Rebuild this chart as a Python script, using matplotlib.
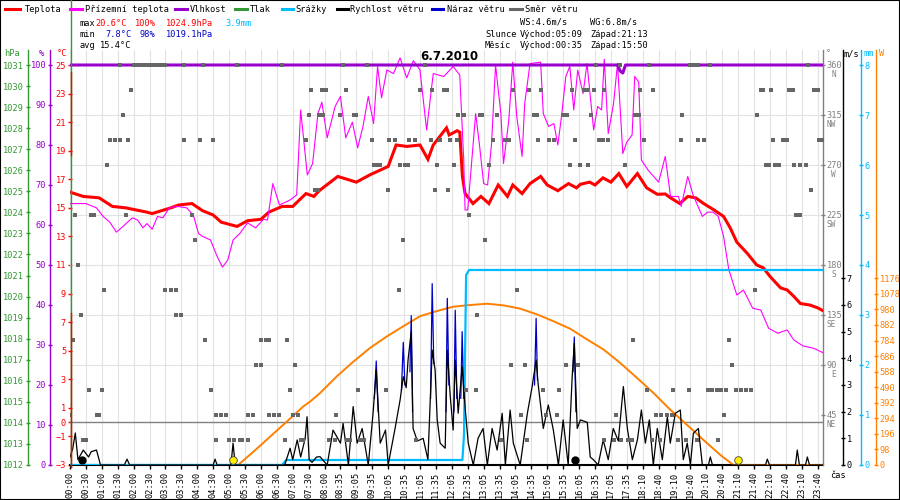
import numpy as np
import matplotlib.pyplot as plt
from matplotlib.lines import Line2D
from matplotlib.patches import Rectangle
from matplotlib.transforms import blended_transform_factory, offset_copy

plt.rcParams['font.family'] = ['DejaVu Sans Mono', 'DejaVu Sans']
FS = 6.2

# ---------------- data (x = sample index, 5 min steps) ----------------
day = '6.7.2010'
time_labels = ['00:00', '00:30', '01:00', '01:30', '02:00', '02:30', '03:00', '03:30',
               '04:00', '04:30', '05:00', '05:30', '06:00', '06:30', '07:00', '07:30',
               '08:00', '08:35', '09:05', '09:35', '10:05', '10:35', '11:05', '11:35',
               '12:05', '12:35', '13:05', '13:35', '14:05', '14:35', '15:05', '15:35',
               '16:05', '16:35', '17:05', '17:35', '18:10', '18:40', '19:10', '19:40',
               '20:10', '20:40', '21:10', '21:40', '22:10', '22:40', '23:10', '23:40']

temp_ticks = [25, 23, 21, 19, 17, 15, 13, 11, 9, 7, 5, 3, 1, 0, -1, -3]
pct_ticks = list(range(0, 101, 10))
hpa_ticks = list(range(1012, 1032))
dir_ticks = [45, 90, 135, 180, 225, 270, 315, 360]
dir_names = ['NE', 'E', 'SE', 'S', 'SW', 'W', 'NW', 'N']
ws_ticks = list(range(0, 8))
mm_ticks = list(range(0, 9))
w_ticks = list(range(0, 1177, 98))

temperature = [(0, 16.1), (5, 15.8), (11, 15.7), (16, 15.1), (21, 15.0), (29, 14.7), (31, 14.6),
               (38, 15.0), (41, 15.2), (46, 15.3), (50, 14.8), (54, 14.5), (57, 14.0), (63, 13.7),
               (67, 14.1), (72, 14.2), (75, 14.7), (80, 15.1), (84, 15.1), (89, 16.0), (92, 15.8),
               (94, 16.2), (101, 17.2), (108, 16.8), (113, 17.3), (120, 17.9), (123, 19.4),
               (127, 19.3), (132, 19.4), (135, 18.4), (137, 19.4), (142, 20.6), (143, 20.1),
               (146, 20.4), (147, 20.3), (148, 17.2), (149, 16.0), (152, 15.3), (155, 15.8),
               (158, 15.3), (161.5, 16.6), (165, 15.8), (167, 16.6), (170.5, 16.0), (173.5, 16.7),
               (177.5, 17.2), (180, 16.6), (184, 16.2), (188, 16.7), (191, 16.4), (192.5, 16.65),
               (196, 16.8), (198, 16.6), (201, 17.1), (204, 16.8), (207, 17.4), (210, 16.5),
               (214, 17.4), (217.5, 16.4), (221.5, 15.95), (224.5, 15.97), (226.5, 15.7),
               (230, 15.3), (233, 15.8), (236, 15.7), (239, 15.3), (242.5, 14.9), (246.5, 14.4),
               (249, 13.6), (251.5, 12.6), (255.5, 11.8), (259, 11.0), (261.5, 10.8), (264, 10.2),
               (268, 9.4), (270.5, 9.25), (273, 8.8), (275.5, 8.3), (279, 8.2), (282, 8.0), (284, 7.8)]

feels_like = [(0, 15.3), (6, 15.3), (10, 15.0), (12.5, 14.4), (15, 14.0), (17.5, 13.3), (20, 13.7),
              (23.5, 14.3), (25.5, 14.15), (27.5, 13.6), (29, 13.9), (31, 13.5), (33, 14.4),
              (35, 14.3), (37.5, 15.0), (40.5, 15.1), (44, 15.0), (46.5, 14.5), (48.5, 13.2),
              (50, 13.0), (53, 12.75), (55.5, 11.6), (57.5, 10.85), (59.5, 11.35), (61.5, 12.75),
              (64, 13.2), (67, 13.95), (70, 13.6), (73, 14.2), (74.5, 14.15), (76.5, 16.7),
              (79, 15.2), (83, 15.55), (85.5, 15.9), (87, 21.85), (89.5, 17.3), (91.5, 18.1),
              (93.5, 21.6), (95, 22.4), (97, 19.9), (100, 22.1), (102, 22.8), (104, 19.9),
              (106.5, 21.0), (108.5, 19.2), (110.5, 20.7), (112.5, 22.8), (114.5, 20.9),
              (116, 24.9), (117.5, 22.7), (119.5, 24.65), (122, 24.4), (124.5, 25.5), (127, 24.1),
              (129.5, 25.3), (132, 24.65), (134.5, 20.45), (137, 24.4), (141, 24.2), (144.5, 24.9),
              (147, 24.3), (148.5, 18.35), (149, 14.85), (150, 14.85), (153, 21.6), (154.5, 19.3),
              (156, 16.7), (157.5, 16.6), (159, 19.5), (160.5, 25.0), (162.5, 21.6), (163.5, 18.1),
              (165.5, 21.15), (167, 25.2), (168.5, 21.4), (170.5, 18.6), (171.5, 22.3),
              (173.5, 25.1), (177.5, 25.2), (178.5, 21.6), (180.5, 20.7), (182.5, 20.9),
              (184, 19.4), (185.5, 21.6), (187, 24.2), (188.5, 24.9), (190, 21.85), (191.5, 24.65),
              (193.5, 23.0), (195, 25.1), (197.5, 20.45), (199, 22.1), (200.5, 21.85), (201.5, 25.4),
              (203, 20.2), (205, 22.3), (206.5, 25.1), (208.5, 18.8), (210, 19.6), (212, 20.1),
              (213, 24.2), (214.5, 23.8), (215.5, 18.35), (218, 17.65), (222, 16.8), (224.5, 18.6),
              (226.5, 15.8), (229.5, 15.8), (230.5, 15.1), (233, 17.2), (235, 15.9), (238.5, 14.4),
              (240.5, 14.7), (242.5, 14.7), (244.5, 14.4), (246.5, 13.0), (248.5, 10.65),
              (251.5, 8.9), (254, 9.25), (257.5, 7.97), (260.5, 7.85), (263.5, 6.57), (267, 6.22),
              (268.5, 6.33), (270.5, 6.45), (273, 5.75), (276.5, 5.33), (280.5, 5.17), (284, 4.86)]

humidity = [(0, 100), (206.5, 100), (207.5, 98.5), (208.5, 98), (209.5, 100), (284, 100)]

precip = [(0, 0), (80, 0), (81.5, 0.1), (148, 0.1), (148.6, 0.6), (149.4, 3.8), (150.5, 3.9), (284, 3.9)]

solar = [(0, 0), (63.4, 0), (69.2, 84), (75.5, 179), (81.8, 274), (88, 369), (90.6, 400),
         (94.3, 453), (100.6, 558), (106.8, 650), (113.2, 738), (119.6, 811), (125.8, 875),
         (132.1, 938), (138.4, 970), (144.5, 997), (150.9, 1008), (157.4, 1016), (163.4, 1006),
         (169.8, 985), (176.1, 949), (182.3, 906), (188.7, 858), (195, 791), (201.3, 727),
         (207.5, 643), (213.9, 548), (220.1, 453), (226.4, 348), (232.7, 253), (238.9, 158),
         (245.3, 63), (250.2, 0), (284, 0)]

wind = [(0, 0.3), (1, 0.6), (2, 1.2), (3, 0.2), (5, 0.56), (7, 0.3), (8, 0.5), (10, 0.56), (11.5, 0),
        (20.5, 0), (21.5, 0.22), (22.5, 0), (54, 0), (54.7, 0.22), (55.5, 0),
        (60.7, 0), (61.5, 0.82), (62.3, 0), (81, 0), (83, 0.63), (84, 0.2), (85.7, 0.94),
        (87, 0.3), (88.7, 1.0), (89.4, 1.81), (90.2, 0.2), (91.3, 0.1), (93, 0.3), (94.3, 0.31),
        (97, 0), (99.2, 1.31), (102, 0.82), (103, 1.56), (105, 0), (106.8, 2.19), (108.3, 0.82),
        (110.2, 1.37), (112.5, 0), (114.3, 1.94), (115.5, 3.56), (117, 0.82), (119, 1.31),
        (120, 0), (122.6, 1.37), (124.5, 2.44), (125.7, 3.31), (126.8, 2.9), (127.5, 3.94),
        (128.7, 5.0), (129.4, 1.37), (131, 0.9), (133.2, 1.0), (135, 0.2), (136.6, 4.31),
        (137.7, 3.56), (138.5, 1.69), (139.6, 0.82), (141.5, 0.63), (142.3, 4.31), (143.4, 2.6),
        (144.5, 1.31), (145.3, 3.94), (146.4, 1.94), (147.9, 3.69), (149.1, 2.06), (150.2, 0.82),
        (152.1, 0), (153.9, 1.0), (155.8, 1.37), (157.4, 0), (159.2, 1.37), (161.1, 0.56),
        (163, 1.94), (164.2, 0), (166, 2.06), (167.2, 0.82), (169.8, 0), (172.5, 1.94),
        (174.3, 2.94), (175.8, 3.94), (176.6, 3.0), (178.5, 1.37), (180.4, 2.25), (182.3, 1.31),
        (184.2, 0), (186, 1.69), (187.9, 0), (189.4, 3.31), (190.2, 4.56), (191.3, 1.37),
        (192.5, 1.69), (195.1, 1.6), (196.2, 0.3), (197.4, 0.2), (199.2, 0), (201.1, 0.94),
        (203, 0.2), (204.9, 1.37), (206.8, 0.9), (208.7, 2.94), (210.2, 1.37), (212.1, 0.2),
        (214, 0.94), (215.5, 2.06), (217, 0.82), (218.5, 1.69), (220, 0), (221.5, 1.37),
        (223.4, 0.2), (225.3, 1.81), (226.4, 0.82), (228.3, 1.94), (230.2, 2.06), (231.3, 0.2),
        (232.8, 0.82), (234, 0), (235.1, 1.19), (237, 1.37), (238.5, 0), (240.8, 0),
        (241.5, 0.3), (242.3, 0), (262.3, 0), (263, 0.22), (263.8, 0), (273.6, 0), (274.3, 0.56),
        (275.1, 0), (277.4, 0), (278.1, 0.3), (278.9, 0), (284, 0)]

gust = [(114.8, 2.5), (115.5, 3.9), (116.2, 2.0), None,
        (125.0, 2.8), (125.7, 4.6), (126.3, 3.0), None,
        (128.2, 3.5), (128.7, 5.6), (129.2, 2.0), None,
        (136.0, 2.5), (136.6, 6.8), (137.2, 3.8), None,
        (141.8, 2.0), (142.3, 6.25), (142.9, 3.0), None,
        (144.8, 2.0), (145.3, 5.8), (145.9, 2.5), None,
        (147.4, 2.5), (147.9, 5.0), (148.5, 2.5), None,
        (175.2, 3.0), (175.8, 5.5), (176.3, 3.2), None,
        (189.7, 3.5), (190.2, 4.8), (190.8, 2.0)]

dir_N = [19, 24, 25, 26, 27, 28, 29, 30, 31, 32, 33, 34, 35, 36, 43, 50, 63, 80, 103, 112, 134,
         198.5, 207.5, 218.5, 234, 235.5, 237, 241.5, 278.5]
dir_NNW = [23, 91, 95, 96.5, 104, 132, 136.5, 141, 142, 167, 173, 177.5, 189.5, 194, 195, 197.5,
           201.5, 215, 220, 260.5, 261.5, 264.5, 271, 272.5, 280.5, 282]
dir_NW = [20, 90, 94, 95.5, 102, 107, 108, 146.5, 148.5, 154.5, 155.5, 161, 175, 176, 186, 187.5,
          196.5, 213, 214.5, 231, 259]
dir_WNW = [15, 17, 19, 22, 43, 49, 54, 89, 114, 120.5, 122.5, 128, 130, 136, 139.5, 143.5, 146,
           159.5, 164, 165.5, 176.5, 180.5, 182.5, 190.5, 199.5, 201, 203, 216.5, 230.5, 237, 239,
           265, 269, 270.5, 282.5, 284]
dir_W = [14, 114.5, 116, 117, 124.5, 126.5, 127.5, 138.5, 145, 158, 188.5, 192.5, 195.5, 209.5,
         262.5, 263.5, 266, 267.5, 273, 275.5, 277.5]
dir_WSW = [92.5, 93.5, 120, 137.5, 142.5, 279.5]
dir_SW = [2, 8, 9, 21, 46, 150.5, 274, 275.5]
dir_SSW = [47, 125.5, 156.5]
dir_S = [3]
dir_SSE = [13, 36, 38, 40, 124, 168.5, 258.5]
dir_SE = [4, 40, 42, 153.5]
dir_ESE = [1, 51, 72, 74, 75, 82, 212.5, 248.5]
dir_E = [70, 72, 85, 166.5, 171.5, 187, 191.5, 249.5]
dir_ENE = [7, 12, 53, 83, 108.5, 119, 149.5, 153, 178.5, 184.5, 217.5, 227.5, 233.5, 240.5, 242,
           244, 245.5, 247.5, 251, 253, 255, 257]
dir_NE = [0, 10, 11, 55, 57, 59, 67, 69, 75, 77, 79, 84, 86, 100.5, 170, 179.5, 183.5, 206, 221,
          223, 225, 227, 246.5]
dir_NNE = [5, 6, 55, 60, 62, 64, 65, 67, 81, 87, 88, 97.5, 100, 104.5, 105.5, 109.5, 111, 130.5,
           162.5, 172.5, 201.5, 205, 208, 210.5, 212, 219.5, 222.5, 229.5, 232.5, 236.5, 244.5]

sunrise_idx, sunset_idx = 61.5, 252
moonrise_idx, moonset_idx = 4.5, 190.5

t_max, t_min, t_avg = 20.6, 7.8, 15.4
h_max, h_min = 100, 98
p_max, p_min = 1024.9, 1019.1
rain_total = 3.9
ws_avg, wg_max = 4.6, 6.8
sun_times = ('05:09', '21:13')
moon_times = ('00:35', '15:50')

# ---------------- colours ----------------
RED = '#ff0000'
MAG = '#ff00ff'
PUR = '#9900cc'
GRN = '#339933'
CYA = '#00bbff'
BLU = '#0000cc'
GRY = '#666666'
ORA = '#ff8000'

# ---------------- layout ----------------
fig = plt.figure(figsize=(9, 5), dpi=100)
fig.patch.set_facecolor('white')

X0, X1, YT, YB = 70, 823, 50, 465


def fx(p):
    return p / 900


def fy(p):
    return 1 - p / 500


def span(lo, hi):
    # the value "hi" sits 15 px below the top of the plot area
    return lo, hi + (hi - lo) * 15 / 400


def unzip(pairs):
    xs = [np.nan if p is None else p[0] for p in pairs]
    ys = [np.nan if p is None else p[1] for p in pairs]
    return xs, ys


ax = fig.add_axes([fx(X0), fy(YB), fx(X1) - fx(X0), fy(YT) - fy(YB)])
ax.set_xlim(0, 284)
ax.set_ylim(*span(-3, 25))
for s in ('top', 'left', 'right'):
    ax.spines[s].set_visible(False)
ax.spines['bottom'].set_linewidth(1.5)
ax.set_xticks(np.arange(len(time_labels)) * 6)
ax.set_xticklabels(time_labels, rotation=90, fontsize=FS)
ax.tick_params(axis='x', length=3, width=1, pad=1.5)
ax.grid(axis='x', color='#e2e2e2', lw=0.8)
ax.set_axisbelow(True)
ax.set_yticks(temp_ticks)
ax.tick_params(axis='y', direction='inout', length=3.5, width=1, color=RED,
               labelcolor=RED, labelsize=FS, pad=1)
ax.axhline(0, color='#808080', lw=1)


def side_axis(px, side, color, lo, hi, ticks):
    a = ax.twinx()
    a.set_ylim(*span(lo, hi))
    for s in a.spines.values():
        s.set_visible(False)
    sp = a.spines[side]
    sp.set_visible(True)
    sp.set_position(('axes', (px - X0) / (X1 - X0)))
    sp.set_color(color)
    sp.set_linewidth(1)
    if side == 'left':
        a.yaxis.tick_left()
    else:
        a.yaxis.tick_right()
    a.set_yticks(ticks)
    a.set_yticklabels([str(t) for t in ticks])
    a.tick_params(axis='y', direction='inout', length=3.5, width=1, color=color,
                  labelcolor=color, labelsize=FS, pad=1)
    return a


def plain_axis(lo, hi):
    a = ax.twinx()
    a.set_ylim(*span(lo, hi))
    a.set_axis_off()
    return a


# direction axis with horizontal grid
ax_dir = side_axis(823, 'right', '#808080', 0, 360, dir_ticks)
for d in dir_ticks[1:-1]:
    ax_dir.axhline(d, color='#e2e2e2', lw=0.8, zorder=0)
tr = offset_copy(blended_transform_factory(fig.transFigure, ax_dir.transData),
                 fig=fig, y=-9.5, units='dots')
for d, name in zip(dir_ticks, dir_names):
    ax_dir.text(fx(836), d, name, transform=tr, ha='right', va='center',
                fontsize=5.6, color='#808080')

ax_hpa = side_axis(28, 'left', GRN, 1012, 1031, hpa_ticks)

# temperatures
ax_t = plain_axis(-3, 25)
tx, tv = unzip(temperature)
fxs, fv = unzip(feels_like)
ax_t.plot(tx, tv, color=RED, lw=2.2, solid_joinstyle='miter')
ax_t.plot(fxs, fv, color=MAG, lw=0.8)

# humidity
ax_pct = side_axis(50, 'left', PUR, 0, 100, pct_ticks)
hx, hv = unzip(humidity)
ax_pct.plot(hx, hv, color=PUR, lw=2.2)

# solar radiation
ax_w = side_axis(876, 'right', ORA, 0, 2520, w_ticks)
sx, sv = unzip(solar)
ax_w.plot(sx, sv, color=ORA, lw=1.4)

# precipitation
ax_mm = side_axis(861, 'right', CYA, 0, 8, mm_ticks)
px_, pv = unzip(precip)
ax_mm.plot(px_, pv, color=CYA, lw=1.6)

# wind
ax_ws = side_axis(843, 'right', 'black', 0, 15, ws_ticks)
gx, gv = unzip(gust)
ax_ws.plot(gx, gv, color=BLU, lw=0.9)
wx, wv = unzip(wind)
ax_ws.plot(wx, wv, color='black', lw=0.9)
ax_ws.plot([sunrise_idx, sunset_idx], [0.2, 0.2], ls='none', marker='o', ms=5.5,
           mfc='#ffee00', mec='#444444', mew=0.6, clip_on=False, zorder=5)
ax_ws.plot([moonrise_idx, moonset_idx], [0.2, 0.2], ls='none', marker='o', ms=5,
           mfc='black', mec='black', clip_on=False, zorder=5)

# wind direction squares
ax_sq = plain_axis(0, 360)
dir_groups = [(360, dir_N), (337.5, dir_NNW), (315, dir_NW), (292.5, dir_WNW), (270, dir_W),
              (247.5, dir_WSW), (225, dir_SW), (202.5, dir_SSW), (180, dir_S),
              (157.5, dir_SSE), (135, dir_SE), (112.5, dir_ESE), (90, dir_E),
              (67.5, dir_ENE), (45, dir_NE), (22.5, dir_NNE)]
for deg, idx in dir_groups:
    ax_sq.plot(idx, [deg] * len(idx), ls='none', marker='s', ms=3.2, mew=0, color=GRY)

# the coloured axis line of the temperature scale
fig.add_artist(Line2D([fx(70.5)] * 2, [fy(0), fy(467)], color=GRN, lw=1))
fig.add_artist(Line2D([fx(70.5)] * 2, [fy(72), fy(155)], color=RED, lw=1))
fig.add_artist(Line2D([fx(70.5)] * 2, [fy(313), fy(467)], color=RED, lw=1))

# axis unit labels
for x, txt, c in [(4, 'hPa', GRN), (39, '%', PUR), (57, '°C', RED), (826, '°', '#808080'),
                  (844, 'm/s', 'black'), (863, 'mm', CYA), (879, 'W', ORA)]:
    fig.text(fx(x), fy(54), txt, color=c, fontsize=FS, va='center', ha='left')
fig.text(fx(830), fy(475), 'čas', fontsize=FS, va='center', ha='left')

# legend row
legend_items = [('Teplota', RED, 5, 20, 25), ('Přízemní teplota', MAG, 70, 82, 85),
                ('Vlhkost', PUR, 175, 187, 190), ('Tlak', GRN, 235, 247, 250),
                ('Srážky', CYA, 282, 293, 295), ('Rychlost větru', 'black', 337, 348, 350),
                ('Náraz větru', BLU, 432, 443, 447), ('Směr větru', GRY, 510, 522, 525)]
for name, c, a, b, t in legend_items:
    fig.add_artist(Line2D([fx(a), fx(b)], [fy(9), fy(9)], color=c, lw=2.2))
    fig.text(fx(t), fy(9), name, fontsize=FS, va='center', ha='left')

# statistics
stats = [(80, 23, 'max', 'black'), (95, 23, f'{t_max}°C', RED), (135, 23, f'{h_max}%', RED),
         (166, 23, f'{p_max}hPa', RED), (225, 23, f'{rain_total}mm', CYA),
         (80, 34, 'min', 'black'), (105, 34, f'{t_min}°C', BLU), (140, 34, f'{h_min}%', BLU),
         (166, 34, f'{p_min}hPa', BLU),
         (80, 45, 'avg', 'black'), (100, 45, f'{t_avg}°C', 'black'),
         (520, 22, f'WS:{ws_avg}m/s', 'black'), (590, 22, f'WG:{wg_max}m/s', 'black'),
         (485, 34, 'Slunce', 'black'), (520, 34, f'Východ:{sun_times[0]}', 'black'),
         (590, 34, f'Západ:{sun_times[1]}', 'black'),
         (485, 45, 'Měsíc', 'black'), (520, 45, f'Východ:{moon_times[0]}', 'black'),
         (590, 45, f'Západ:{moon_times[1]}', 'black')]
for x, y, txt, c in stats:
    fig.text(fx(x), fy(y), txt, color=c, fontsize=FS, va='center', ha='left')

fig.text(fx(449), fy(57), day, fontsize=8.5, fontweight='bold', family='DejaVu Sans',
         ha='center', va='center')

fig.add_artist(Rectangle((0, 0), 1, 1, transform=fig.transFigure, fill=False,
                         ec='black', lw=1.5))

fig.savefig('out.png', dpi=100)
